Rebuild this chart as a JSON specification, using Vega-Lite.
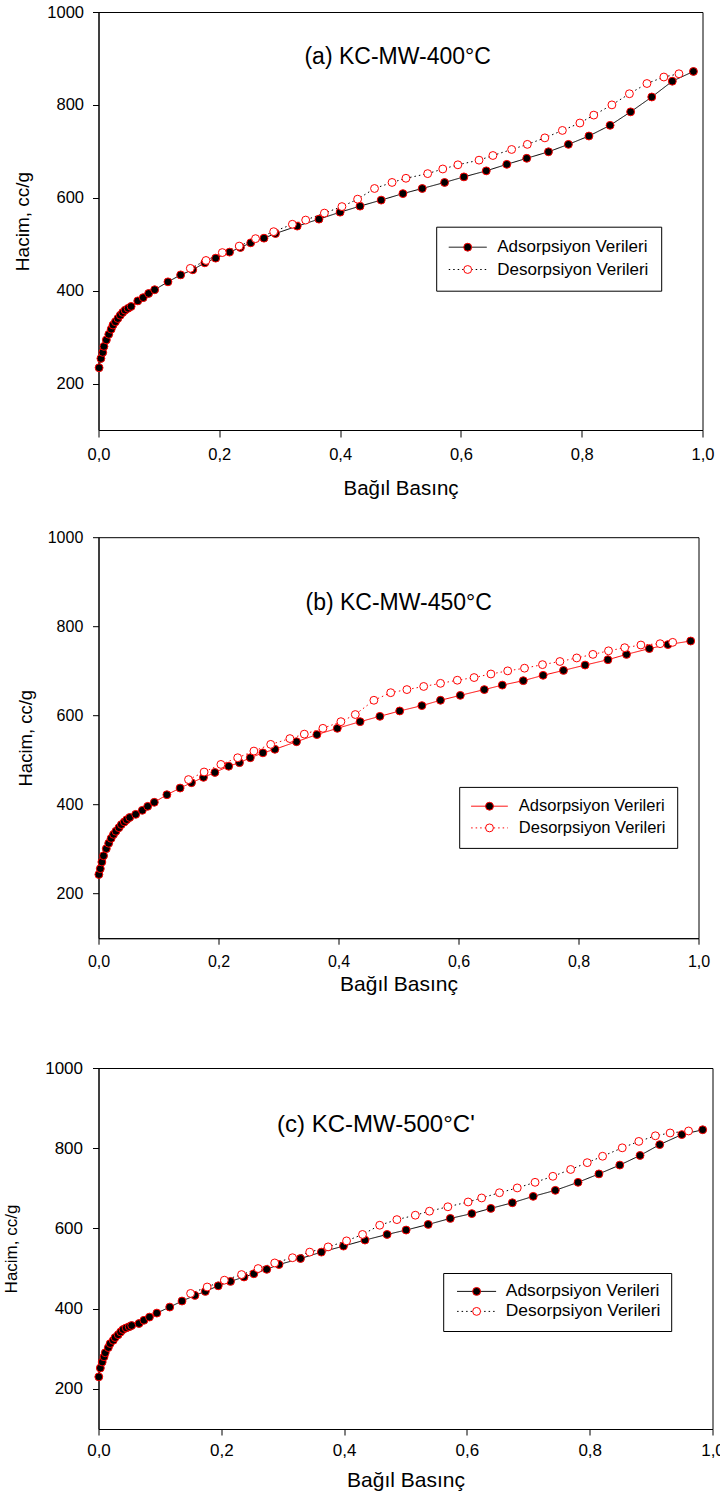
{
"$schema": "https://vega.github.io/schema/vega-lite/v6.json",
"padding": {"left": 1.5, "top": 3, "right": -4, "bottom": 0},
"background": "white",
"config": {
  "font": "Liberation Sans",
  "view": {"stroke": "black", "strokeWidth": 1},
  "axis": {"grid": false, "domainColor": "black", "domainWidth": 1, "tickColor": "black", "tickWidth": 1, "labelColor": "black", "titleColor": "black", "titleFontWeight": "normal", "labelFont": "Liberation Sans", "titleFont": "Liberation Sans"},
  "legend": {"labelFont": "Liberation Sans", "labelColor": "black"},
  "text": {"font": "Liberation Sans"}
},
"datasets": {
"a": [
{"P":0.001,"V":234,"seri":"Adsorpsiyon Verileri"},{"P":0.004,"V":254,"seri":"Adsorpsiyon Verileri"},{"P":0.007,"V":267,"seri":"Adsorpsiyon Verileri"},{"P":0.009,"V":280,"seri":"Adsorpsiyon Verileri"},{"P":0.013,"V":294,"seri":"Adsorpsiyon Verileri"},{"P":0.017,"V":306,"seri":"Adsorpsiyon Verileri"},{"P":0.021,"V":317,"seri":"Adsorpsiyon Verileri"},{"P":0.024,"V":326,"seri":"Adsorpsiyon Verileri"},{"P":0.028,"V":333,"seri":"Adsorpsiyon Verileri"},{"P":0.032,"V":340,"seri":"Adsorpsiyon Verileri"},{"P":0.036,"V":347,"seri":"Adsorpsiyon Verileri"},{"P":0.040,"V":353,"seri":"Adsorpsiyon Verileri"},{"P":0.044,"V":358,"seri":"Adsorpsiyon Verileri"},{"P":0.049,"V":362,"seri":"Adsorpsiyon Verileri"},{"P":0.054,"V":366,"seri":"Adsorpsiyon Verileri"},{"P":0.065,"V":378,"seri":"Adsorpsiyon Verileri"},{"P":0.074,"V":385,"seri":"Adsorpsiyon Verileri"},{"P":0.083,"V":394,"seri":"Adsorpsiyon Verileri"},{"P":0.093,"V":402,"seri":"Adsorpsiyon Verileri"},{"P":0.115,"V":419,"seri":"Adsorpsiyon Verileri"},{"P":0.136,"V":434,"seri":"Adsorpsiyon Verileri"},{"P":0.156,"V":445,"seri":"Adsorpsiyon Verileri"},{"P":0.176,"V":460,"seri":"Adsorpsiyon Verileri"},{"P":0.194,"V":470,"seri":"Adsorpsiyon Verileri"},{"P":0.217,"V":483,"seri":"Adsorpsiyon Verileri"},{"P":0.235,"V":493,"seri":"Adsorpsiyon Verileri"},{"P":0.252,"V":503,"seri":"Adsorpsiyon Verileri"},{"P":0.274,"V":513,"seri":"Adsorpsiyon Verileri"},{"P":0.293,"V":523,"seri":"Adsorpsiyon Verileri"},{"P":0.329,"V":539,"seri":"Adsorpsiyon Verileri"},{"P":0.365,"V":554,"seri":"Adsorpsiyon Verileri"},{"P":0.400,"V":569,"seri":"Adsorpsiyon Verileri"},{"P":0.433,"V":582,"seri":"Adsorpsiyon Verileri"},{"P":0.468,"V":595,"seri":"Adsorpsiyon Verileri"},{"P":0.504,"V":609,"seri":"Adsorpsiyon Verileri"},{"P":0.536,"V":620,"seri":"Adsorpsiyon Verileri"},{"P":0.573,"V":633,"seri":"Adsorpsiyon Verileri"},{"P":0.605,"V":645,"seri":"Adsorpsiyon Verileri"},{"P":0.642,"V":658,"seri":"Adsorpsiyon Verileri"},{"P":0.676,"V":672,"seri":"Adsorpsiyon Verileri"},{"P":0.709,"V":685,"seri":"Adsorpsiyon Verileri"},{"P":0.745,"V":699,"seri":"Adsorpsiyon Verileri"},{"P":0.778,"V":715,"seri":"Adsorpsiyon Verileri"},{"P":0.812,"V":733,"seri":"Adsorpsiyon Verileri"},{"P":0.847,"V":756,"seri":"Adsorpsiyon Verileri"},{"P":0.881,"V":785,"seri":"Adsorpsiyon Verileri"},{"P":0.916,"V":817,"seri":"Adsorpsiyon Verileri"},{"P":0.950,"V":851,"seri":"Adsorpsiyon Verileri"},{"P":0.985,"V":872,"seri":"Adsorpsiyon Verileri"},
{"P":0.961,"V":867,"seri":"Desorpsiyon Verileri"},{"P":0.936,"V":860,"seri":"Desorpsiyon Verileri"},{"P":0.908,"V":846,"seri":"Desorpsiyon Verileri"},{"P":0.879,"V":824,"seri":"Desorpsiyon Verileri"},{"P":0.850,"V":800,"seri":"Desorpsiyon Verileri"},{"P":0.820,"V":778,"seri":"Desorpsiyon Verileri"},{"P":0.797,"V":761,"seri":"Desorpsiyon Verileri"},{"P":0.768,"V":745,"seri":"Desorpsiyon Verileri"},{"P":0.739,"V":729,"seri":"Desorpsiyon Verileri"},{"P":0.710,"V":715,"seri":"Desorpsiyon Verileri"},{"P":0.684,"V":704,"seri":"Desorpsiyon Verileri"},{"P":0.653,"V":691,"seri":"Desorpsiyon Verileri"},{"P":0.630,"V":681,"seri":"Desorpsiyon Verileri"},{"P":0.595,"V":671,"seri":"Desorpsiyon Verileri"},{"P":0.570,"V":662,"seri":"Desorpsiyon Verileri"},{"P":0.545,"V":652,"seri":"Desorpsiyon Verileri"},{"P":0.509,"V":642,"seri":"Desorpsiyon Verileri"},{"P":0.486,"V":633,"seri":"Desorpsiyon Verileri"},{"P":0.457,"V":620,"seri":"Desorpsiyon Verileri"},{"P":0.429,"V":597,"seri":"Desorpsiyon Verileri"},{"P":0.403,"V":581,"seri":"Desorpsiyon Verileri"},{"P":0.374,"V":567,"seri":"Desorpsiyon Verileri"},{"P":0.343,"V":552,"seri":"Desorpsiyon Verileri"},{"P":0.321,"V":543,"seri":"Desorpsiyon Verileri"},{"P":0.290,"V":527,"seri":"Desorpsiyon Verileri"},{"P":0.260,"V":512,"seri":"Desorpsiyon Verileri"},{"P":0.233,"V":496,"seri":"Desorpsiyon Verileri"},{"P":0.205,"V":482,"seri":"Desorpsiyon Verileri"},{"P":0.178,"V":465,"seri":"Desorpsiyon Verileri"},{"P":0.152,"V":448,"seri":"Desorpsiyon Verileri"}
],
"b": [
{"P":0.0006,"V":243,"seri":"Adsorpsiyon Verileri"},{"P":0.003,"V":256,"seri":"Adsorpsiyon Verileri"},{"P":0.0056,"V":271,"seri":"Adsorpsiyon Verileri"},{"P":0.0084,"V":285,"seri":"Adsorpsiyon Verileri"},{"P":0.013,"V":301,"seri":"Adsorpsiyon Verileri"},{"P":0.017,"V":313,"seri":"Adsorpsiyon Verileri"},{"P":0.021,"V":324,"seri":"Adsorpsiyon Verileri"},{"P":0.025,"V":333,"seri":"Adsorpsiyon Verileri"},{"P":0.029,"V":340,"seri":"Adsorpsiyon Verileri"},{"P":0.034,"V":348,"seri":"Adsorpsiyon Verileri"},{"P":0.038,"V":355,"seri":"Adsorpsiyon Verileri"},{"P":0.043,"V":361,"seri":"Adsorpsiyon Verileri"},{"P":0.047,"V":366,"seri":"Adsorpsiyon Verileri"},{"P":0.052,"V":371,"seri":"Adsorpsiyon Verileri"},{"P":0.062,"V":378,"seri":"Adsorpsiyon Verileri"},{"P":0.073,"V":387,"seri":"Adsorpsiyon Verileri"},{"P":0.082,"V":396,"seri":"Adsorpsiyon Verileri"},{"P":0.093,"V":405,"seri":"Adsorpsiyon Verileri"},{"P":0.114,"V":422,"seri":"Adsorpsiyon Verileri"},{"P":0.136,"V":437,"seri":"Adsorpsiyon Verileri"},{"P":0.155,"V":449,"seri":"Adsorpsiyon Verileri"},{"P":0.175,"V":461,"seri":"Adsorpsiyon Verileri"},{"P":0.194,"V":472,"seri":"Adsorpsiyon Verileri"},{"P":0.217,"V":486,"seri":"Adsorpsiyon Verileri"},{"P":0.235,"V":494,"seri":"Adsorpsiyon Verileri"},{"P":0.253,"V":505,"seri":"Adsorpsiyon Verileri"},{"P":0.274,"V":516,"seri":"Adsorpsiyon Verileri"},{"P":0.294,"V":524,"seri":"Adsorpsiyon Verileri"},{"P":0.330,"V":541,"seri":"Adsorpsiyon Verileri"},{"P":0.364,"V":557,"seri":"Adsorpsiyon Verileri"},{"P":0.398,"V":571,"seri":"Adsorpsiyon Verileri"},{"P":0.436,"V":586,"seri":"Adsorpsiyon Verileri"},{"P":0.469,"V":598,"seri":"Adsorpsiyon Verileri"},{"P":0.502,"V":610,"seri":"Adsorpsiyon Verileri"},{"P":0.539,"V":622,"seri":"Adsorpsiyon Verileri"},{"P":0.570,"V":634,"seri":"Adsorpsiyon Verileri"},{"P":0.603,"V":645,"seri":"Adsorpsiyon Verileri"},{"P":0.643,"V":658,"seri":"Adsorpsiyon Verileri"},{"P":0.673,"V":668,"seri":"Adsorpsiyon Verileri"},{"P":0.708,"V":678,"seri":"Adsorpsiyon Verileri"},{"P":0.741,"V":690,"seri":"Adsorpsiyon Verileri"},{"P":0.775,"V":701,"seri":"Adsorpsiyon Verileri"},{"P":0.811,"V":713,"seri":"Adsorpsiyon Verileri"},{"P":0.849,"V":725,"seri":"Adsorpsiyon Verileri"},{"P":0.880,"V":737,"seri":"Adsorpsiyon Verileri"},{"P":0.918,"V":750,"seri":"Adsorpsiyon Verileri"},{"P":0.949,"V":759,"seri":"Adsorpsiyon Verileri"},{"P":0.987,"V":767,"seri":"Adsorpsiyon Verileri"},
{"P":0.957,"V":764,"seri":"Desorpsiyon Verileri"},{"P":0.936,"V":761,"seri":"Desorpsiyon Verileri"},{"P":0.904,"V":758,"seri":"Desorpsiyon Verileri"},{"P":0.877,"V":752,"seri":"Desorpsiyon Verileri"},{"P":0.850,"V":745,"seri":"Desorpsiyon Verileri"},{"P":0.824,"V":737,"seri":"Desorpsiyon Verileri"},{"P":0.797,"V":729,"seri":"Desorpsiyon Verileri"},{"P":0.769,"V":721,"seri":"Desorpsiyon Verileri"},{"P":0.740,"V":714,"seri":"Desorpsiyon Verileri"},{"P":0.710,"V":706,"seri":"Desorpsiyon Verileri"},{"P":0.682,"V":700,"seri":"Desorpsiyon Verileri"},{"P":0.654,"V":693,"seri":"Desorpsiyon Verileri"},{"P":0.626,"V":685,"seri":"Desorpsiyon Verileri"},{"P":0.598,"V":679,"seri":"Desorpsiyon Verileri"},{"P":0.570,"V":672,"seri":"Desorpsiyon Verileri"},{"P":0.542,"V":665,"seri":"Desorpsiyon Verileri"},{"P":0.514,"V":658,"seri":"Desorpsiyon Verileri"},{"P":0.487,"V":651,"seri":"Desorpsiyon Verileri"},{"P":0.459,"V":634,"seri":"Desorpsiyon Verileri"},{"P":0.428,"V":602,"seri":"Desorpsiyon Verileri"},{"P":0.404,"V":586,"seri":"Desorpsiyon Verileri"},{"P":0.374,"V":571,"seri":"Desorpsiyon Verileri"},{"P":0.343,"V":558,"seri":"Desorpsiyon Verileri"},{"P":0.319,"V":548,"seri":"Desorpsiyon Verileri"},{"P":0.287,"V":535,"seri":"Desorpsiyon Verileri"},{"P":0.259,"V":520,"seri":"Desorpsiyon Verileri"},{"P":0.232,"V":505,"seri":"Desorpsiyon Verileri"},{"P":0.204,"V":490,"seri":"Desorpsiyon Verileri"},{"P":0.176,"V":473,"seri":"Desorpsiyon Verileri"},{"P":0.150,"V":456,"seri":"Desorpsiyon Verileri"}
],
"c": [
{"P":0.0005,"V":230,"seri":"Adsorpsiyon Verileri"},{"P":0.003,"V":252,"seri":"Adsorpsiyon Verileri"},{"P":0.006,"V":267,"seri":"Adsorpsiyon Verileri"},{"P":0.009,"V":280,"seri":"Adsorpsiyon Verileri"},{"P":0.011,"V":290,"seri":"Adsorpsiyon Verileri"},{"P":0.016,"V":303,"seri":"Adsorpsiyon Verileri"},{"P":0.019,"V":313,"seri":"Adsorpsiyon Verileri"},{"P":0.024,"V":321,"seri":"Adsorpsiyon Verileri"},{"P":0.027,"V":328,"seri":"Adsorpsiyon Verileri"},{"P":0.032,"V":335,"seri":"Adsorpsiyon Verileri"},{"P":0.036,"V":342,"seri":"Adsorpsiyon Verileri"},{"P":0.040,"V":348,"seri":"Adsorpsiyon Verileri"},{"P":0.045,"V":352,"seri":"Adsorpsiyon Verileri"},{"P":0.050,"V":355,"seri":"Adsorpsiyon Verileri"},{"P":0.054,"V":358,"seri":"Adsorpsiyon Verileri"},{"P":0.066,"V":363,"seri":"Adsorpsiyon Verileri"},{"P":0.074,"V":371,"seri":"Adsorpsiyon Verileri"},{"P":0.083,"V":379,"seri":"Adsorpsiyon Verileri"},{"P":0.095,"V":389,"seri":"Adsorpsiyon Verileri"},{"P":0.116,"V":404,"seri":"Adsorpsiyon Verileri"},{"P":0.136,"V":419,"seri":"Adsorpsiyon Verileri"},{"P":0.157,"V":433,"seri":"Adsorpsiyon Verileri"},{"P":0.174,"V":443,"seri":"Adsorpsiyon Verileri"},{"P":0.195,"V":457,"seri":"Adsorpsiyon Verileri"},{"P":0.215,"V":468,"seri":"Adsorpsiyon Verileri"},{"P":0.237,"V":479,"seri":"Adsorpsiyon Verileri"},{"P":0.253,"V":487,"seri":"Adsorpsiyon Verileri"},{"P":0.274,"V":498,"seri":"Adsorpsiyon Verileri"},{"P":0.294,"V":510,"seri":"Adsorpsiyon Verileri"},{"P":0.329,"V":525,"seri":"Adsorpsiyon Verileri"},{"P":0.363,"V":541,"seri":"Adsorpsiyon Verileri"},{"P":0.399,"V":556,"seri":"Adsorpsiyon Verileri"},{"P":0.434,"V":571,"seri":"Adsorpsiyon Verileri"},{"P":0.470,"V":585,"seri":"Adsorpsiyon Verileri"},{"P":0.501,"V":596,"seri":"Adsorpsiyon Verileri"},{"P":0.537,"V":610,"seri":"Adsorpsiyon Verileri"},{"P":0.573,"V":625,"seri":"Adsorpsiyon Verileri"},{"P":0.608,"V":637,"seri":"Adsorpsiyon Verileri"},{"P":0.639,"V":650,"seri":"Adsorpsiyon Verileri"},{"P":0.674,"V":664,"seri":"Adsorpsiyon Verileri"},{"P":0.708,"V":680,"seri":"Adsorpsiyon Verileri"},{"P":0.744,"V":695,"seri":"Adsorpsiyon Verileri"},{"P":0.781,"V":715,"seri":"Adsorpsiyon Verileri"},{"P":0.815,"V":736,"seri":"Adsorpsiyon Verileri"},{"P":0.849,"V":758,"seri":"Adsorpsiyon Verileri"},{"P":0.882,"V":782,"seri":"Adsorpsiyon Verileri"},{"P":0.914,"V":809,"seri":"Adsorpsiyon Verileri"},{"P":0.950,"V":834,"seri":"Adsorpsiyon Verileri"},{"P":0.984,"V":846,"seri":"Adsorpsiyon Verileri"},
{"P":0.961,"V":843,"seri":"Desorpsiyon Verileri"},{"P":0.931,"V":838,"seri":"Desorpsiyon Verileri"},{"P":0.907,"V":831,"seri":"Desorpsiyon Verileri"},{"P":0.880,"V":817,"seri":"Desorpsiyon Verileri"},{"P":0.853,"V":801,"seri":"Desorpsiyon Verileri"},{"P":0.821,"V":780,"seri":"Desorpsiyon Verileri"},{"P":0.796,"V":764,"seri":"Desorpsiyon Verileri"},{"P":0.769,"V":747,"seri":"Desorpsiyon Verileri"},{"P":0.740,"V":730,"seri":"Desorpsiyon Verileri"},{"P":0.711,"V":715,"seri":"Desorpsiyon Verileri"},{"P":0.682,"V":701,"seri":"Desorpsiyon Verileri"},{"P":0.653,"V":689,"seri":"Desorpsiyon Verileri"},{"P":0.624,"V":676,"seri":"Desorpsiyon Verileri"},{"P":0.602,"V":666,"seri":"Desorpsiyon Verileri"},{"P":0.569,"V":654,"seri":"Desorpsiyon Verileri"},{"P":0.539,"V":643,"seri":"Desorpsiyon Verileri"},{"P":0.516,"V":633,"seri":"Desorpsiyon Verileri"},{"P":0.486,"V":622,"seri":"Desorpsiyon Verileri"},{"P":0.458,"V":608,"seri":"Desorpsiyon Verileri"},{"P":0.430,"V":585,"seri":"Desorpsiyon Verileri"},{"P":0.404,"V":569,"seri":"Desorpsiyon Verileri"},{"P":0.374,"V":554,"seri":"Desorpsiyon Verileri"},{"P":0.344,"V":541,"seri":"Desorpsiyon Verileri"},{"P":0.316,"V":527,"seri":"Desorpsiyon Verileri"},{"P":0.287,"V":514,"seri":"Desorpsiyon Verileri"},{"P":0.260,"V":500,"seri":"Desorpsiyon Verileri"},{"P":0.233,"V":485,"seri":"Desorpsiyon Verileri"},{"P":0.205,"V":471,"seri":"Desorpsiyon Verileri"},{"P":0.177,"V":454,"seri":"Desorpsiyon Verileri"},{"P":0.150,"V":438,"seri":"Desorpsiyon Verileri"}
]
},
"columns": 1,
"align": "none",
"spacing": 28.2,
"resolve": {"scale": {"stroke": "independent", "strokeDash": "independent", "fill": "independent"}, "legend": {"stroke": "independent", "strokeDash": "independent", "fill": "independent"}},
"concat": [
{
  "width": 604, "height": 418,
  "layer": [
    {"data": {"name": "a"},
     "mark": {"type": "line", "strokeWidth": 1},
     "encoding": {
       "x": {"field": "P", "type": "quantitative", "scale": {"domain": [0, 1], "nice": false, "zero": false},
         "axis": {"title": "Bağıl Basınç", "values": [0, 0.2, 0.4, 0.6, 0.8, 1], "labelExpr": "replace(format(datum.value, '.1f'), '.', ',')", "labelFlush": false, "labelOverlap": false, "labelFontSize": 16.5, "tickSize": 7, "labelPadding": 9.5, "titleFontSize": 20.5, "titleY": 64.3, "titleBaseline": "alphabetic"}},
       "y": {"field": "V", "type": "quantitative", "scale": {"domain": [100, 1000], "nice": false, "zero": false},
         "axis": {"title": "Hacim, cc/g", "values": [200, 400, 600, 800, 1000], "format": "d", "labelFontSize": 16.5, "tickSize": 6, "labelPadding": 9, "titleFontSize": 19, "titleX": -76.4, "titleBaseline": "middle"}},
       "stroke": {"field": "seri", "type": "nominal", "scale": {"range": ["black", "black"]},
         "legend": {"title": null, "orient": "none", "legendX": 337.7, "legendY": 214.7, "symbolType": "stroke", "symbolSize": 1444, "symbolStrokeWidth": 1, "clipHeight": 17, "rowPadding": 4.3, "padding": 12, "labelFontSize": 17, "labelOffset": 10, "strokeColor": "black", "fillColor": "white", "zindex": 0}},
       "strokeDash": {"field": "seri", "type": "nominal", "scale": {"range": [[1, 0], [1.5, 3]]},
         "legend": {"title": null, "orient": "none", "legendX": 337.7, "legendY": 214.7, "symbolType": "stroke", "symbolSize": 1444, "symbolStrokeWidth": 1, "clipHeight": 17, "rowPadding": 4.3, "padding": 12, "labelFontSize": 17, "labelOffset": 10, "strokeColor": "black", "fillColor": "white", "zindex": 0}}
     }},
    {"data": {"name": "a"},
     "mark": {"type": "point", "filled": true, "size": 62, "stroke": "red", "strokeWidth": 1, "opacity": 1},
     "encoding": {
       "x": {"field": "P", "type": "quantitative", "scale": {"domain": [0, 1], "nice": false, "zero": false}},
       "y": {"field": "V", "type": "quantitative", "scale": {"domain": [100, 1000], "nice": false, "zero": false}},
       "fill": {"field": "seri", "type": "nominal", "scale": {"domain": ["Adsorpsiyon Verileri", "Desorpsiyon Verileri"], "range": ["black", "white"]},
         "legend": {"title": null, "orient": "none", "legendX": 337.7, "legendY": 214.7, "symbolType": "circle", "symbolSize": 62, "symbolStrokeColor": "red", "symbolStrokeWidth": 1, "symbolOffset": 11, "clipHeight": 17, "rowPadding": 4.3, "padding": 12, "labelFontSize": 17, "labelOffset": 10, "labelExpr": "' '", "zindex": 1}}
     }},
    {"data": {"values": [{"etiket": "(a) KC-MW-400°C"}]},
     "mark": {"type": "text", "align": "left", "baseline": "alphabetic", "fontSize": 23, "color": "black"},
     "encoding": {"x": {"datum": 0.341, "type": "quantitative"}, "y": {"datum": 887.4, "type": "quantitative"}, "text": {"field": "etiket", "type": "nominal"}}}
  ]
},
{
  "columns": 1,
  "align": "none",
  "spacing": 62.8,
  "resolve": {"scale": {"stroke": "independent", "strokeDash": "independent", "fill": "independent"}, "legend": {"stroke": "independent", "strokeDash": "independent", "fill": "independent"}},
  "concat": [
  {
    "width": 600, "height": 401,
    "layer": [
      {"data": {"name": "b"},
       "mark": {"type": "line", "strokeWidth": 1},
       "encoding": {
         "x": {"field": "P", "type": "quantitative", "scale": {"domain": [0, 1], "nice": false, "zero": false},
           "axis": {"title": "Bağıl Basınç", "values": [0, 0.2, 0.4, 0.6, 0.8, 1], "labelExpr": "replace(format(datum.value, '.1f'), '.', ',')", "labelFlush": false, "labelOverlap": false, "labelFontSize": 16, "tickSize": 6, "labelPadding": 8.8, "titleFontSize": 21, "titleY": 52.5, "titleBaseline": "alphabetic"}},
         "y": {"field": "V", "type": "quantitative", "scale": {"domain": [100, 1000], "nice": false, "zero": false},
           "axis": {"title": "Hacim, cc/g", "values": [200, 400, 600, 800, 1000], "format": "d", "labelFontSize": 16, "tickSize": 6, "labelPadding": 9.7, "titleFontSize": 18.5, "titleX": -73.1, "titleBaseline": "middle"}},
         "stroke": {"field": "seri", "type": "nominal", "scale": {"range": ["red", "red"]},
           "legend": {"title": null, "orient": "none", "legendX": 360.7, "legendY": 249.7, "symbolType": "stroke", "symbolSize": 1347, "symbolStrokeWidth": 1, "clipHeight": 16, "rowPadding": 4.7, "padding": 11.3, "labelFontSize": 16.5, "labelOffset": 10.3, "strokeColor": "black", "fillColor": "white", "zindex": 0}},
         "strokeDash": {"field": "seri", "type": "nominal", "scale": {"range": [[1, 0], [1.5, 3]]},
           "legend": {"title": null, "orient": "none", "legendX": 360.7, "legendY": 249.7, "symbolType": "stroke", "symbolSize": 1347, "symbolStrokeWidth": 1, "clipHeight": 16, "rowPadding": 4.7, "padding": 11.3, "labelFontSize": 16.5, "labelOffset": 10.3, "strokeColor": "black", "fillColor": "white", "zindex": 0}}
       }},
      {"data": {"name": "b"},
       "mark": {"type": "point", "filled": true, "size": 62, "stroke": "red", "strokeWidth": 1, "opacity": 1},
       "encoding": {
         "x": {"field": "P", "type": "quantitative", "scale": {"domain": [0, 1], "nice": false, "zero": false}},
         "y": {"field": "V", "type": "quantitative", "scale": {"domain": [100, 1000], "nice": false, "zero": false}},
         "fill": {"field": "seri", "type": "nominal", "scale": {"domain": ["Adsorpsiyon Verileri", "Desorpsiyon Verileri"], "range": ["black", "white"]},
           "legend": {"title": null, "orient": "none", "legendX": 360.7, "legendY": 249.7, "symbolType": "circle", "symbolSize": 62, "symbolStrokeColor": "red", "symbolStrokeWidth": 1, "symbolOffset": 10.75, "clipHeight": 16, "rowPadding": 4.7, "padding": 11.3, "labelFontSize": 16.5, "labelOffset": 10.3, "labelExpr": "' '", "zindex": 1}}
       }},
      {"data": {"values": [{"etiket": "(b) KC-MW-450°C"}]},
       "mark": {"type": "text", "align": "left", "baseline": "alphabetic", "fontSize": 23, "color": "black"},
       "encoding": {"x": {"datum": 0.345, "type": "quantitative"}, "y": {"datum": 837.7, "type": "quantitative"}, "text": {"field": "etiket", "type": "nominal"}}}
    ]
  },
  {
    "width": 614, "height": 361,
    "layer": [
      {"data": {"name": "c"},
       "mark": {"type": "line", "strokeWidth": 1},
       "encoding": {
         "x": {"field": "P", "type": "quantitative", "scale": {"domain": [0, 1], "nice": false, "zero": false},
           "axis": {"title": "Bağıl Basınç", "values": [0, 0.2, 0.4, 0.6, 0.8, 1], "labelExpr": "replace(format(datum.value, '.1f'), '.', ',')", "labelFlush": false, "labelOverlap": false, "labelFontSize": 17, "tickSize": 6, "labelPadding": 7.3, "titleFontSize": 21, "titleY": 57.2, "titleBaseline": "alphabetic"}},
         "y": {"field": "V", "type": "quantitative", "scale": {"domain": [100, 1000], "nice": false, "zero": false},
           "axis": {"title": "Hacim, cc/g", "values": [200, 400, 600, 800, 1000], "format": "d", "labelFontSize": 17, "tickSize": 6, "labelPadding": 10, "titleFontSize": 17, "titleX": -87.5, "titleBaseline": "middle"}},
         "stroke": {"field": "seri", "type": "nominal", "scale": {"range": ["black", "black"]},
           "legend": {"title": null, "orient": "none", "legendX": 344.7, "legendY": 205, "symbolType": "stroke", "symbolSize": 1521, "symbolStrokeWidth": 1, "symbolOffset": 3, "clipHeight": 16, "rowPadding": 2, "padding": 10.4, "labelFontSize": 17.4, "labelOffset": 9.2, "strokeColor": "black", "fillColor": "white", "zindex": 0}},
         "strokeDash": {"field": "seri", "type": "nominal", "scale": {"range": [[1, 0], [1.5, 3]]},
           "legend": {"title": null, "orient": "none", "legendX": 344.7, "legendY": 205, "symbolType": "stroke", "symbolSize": 1521, "symbolStrokeWidth": 1, "symbolOffset": 3, "clipHeight": 16, "rowPadding": 2, "padding": 10.4, "labelFontSize": 17.4, "labelOffset": 9.2, "strokeColor": "black", "fillColor": "white", "zindex": 0}}
       }},
      {"data": {"name": "c"},
       "mark": {"type": "point", "filled": true, "size": 62, "stroke": "red", "strokeWidth": 1, "opacity": 1},
       "encoding": {
         "x": {"field": "P", "type": "quantitative", "scale": {"domain": [0, 1], "nice": false, "zero": false}},
         "y": {"field": "V", "type": "quantitative", "scale": {"domain": [100, 1000], "nice": false, "zero": false}},
         "fill": {"field": "seri", "type": "nominal", "scale": {"domain": ["Adsorpsiyon Verileri", "Desorpsiyon Verileri"], "range": ["black", "white"]},
           "legend": {"title": null, "orient": "none", "legendX": 344.7, "legendY": 205, "symbolType": "circle", "symbolSize": 62, "symbolStrokeColor": "red", "symbolStrokeWidth": 1, "symbolOffset": 14.3, "clipHeight": 16, "rowPadding": 2, "padding": 10.4, "labelFontSize": 17.4, "labelOffset": 9.2, "labelExpr": "' '", "zindex": 1}}
       }},
      {"data": {"values": [{"etiket": "(c) KC-MW-500°C'"}]},
       "mark": {"type": "text", "align": "left", "baseline": "alphabetic", "fontSize": 24, "color": "black"},
       "encoding": {"x": {"datum": 0.2907, "type": "quantitative"}, "y": {"datum": 839.5, "type": "quantitative"}, "text": {"field": "etiket", "type": "nominal"}}}
    ]
  }
  ]
}
]
}
